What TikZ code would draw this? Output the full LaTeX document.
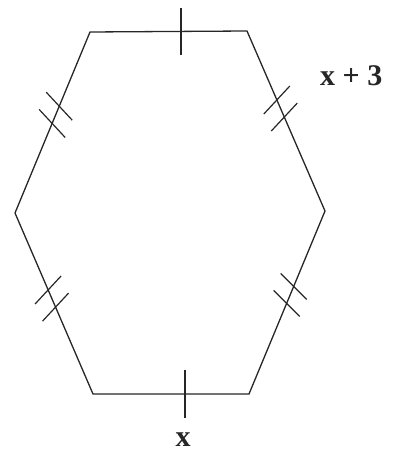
\documentclass[tikz,border=0pt]{standalone}
\usepackage{fontspec}
\setmainfont{Liberation Serif}
\usetikzlibrary{calc}
\begin{document}
\begin{tikzpicture}[x=1pt,y=-1pt,
  edge/.style={line width=1.3pt,draw=black!85},
  tickmark/.style={line width=1.2pt,draw=black!85},
  lbl/.style={font=\fontsize{30}{33}\selectfont\bfseries,inner sep=0pt,text=black!85}]
\useasboundingbox (0,0) rectangle (396,465);
\coordinate (TL) at (90,32);
\coordinate (TR) at (247,31);
\coordinate (R) at (325,211);
\coordinate (BR) at (249,394);
\coordinate (BL) at (93,394);
\coordinate (L) at (15,213);
\draw[edge] (TL) -- (TR) -- (R) -- (BR) -- (BL) -- (L) -- cycle;
% single ticks top and bottom
\coordinate (t1) at (181,8);
\coordinate (t2) at (181,55);
\draw[tickmark] (t1) -- (t2);
\coordinate (b1) at (185,370);
\coordinate (b2) at (185,418);
\draw[tickmark] (b1) -- (b2);
% double ticks
\foreach \a/\b/\t/\dx/\dy in {TL/L/0.41/13/14, TL/L/0.505/13/14,
  L/BL/0.425/-13/14, L/BL/0.52/-13/14,
  TR/R/0.383/13/-14, TR/R/0.478/13/-14,
  R/BR/0.412/13/13, R/BR/0.505/13/13}{
  \coordinate (m) at ($(\a)!\t!(\b)$);
  \draw[tickmark] ($(m)+(-\dx,-\dy)$) -- ($(m)+(\dx,\dy)$);
}
\node[lbl,anchor=base west] (lab1) at (320,86) {x + 3};
\node[lbl,anchor=base] (lab2) at (183,446) {x};
\end{tikzpicture}
\end{document}
